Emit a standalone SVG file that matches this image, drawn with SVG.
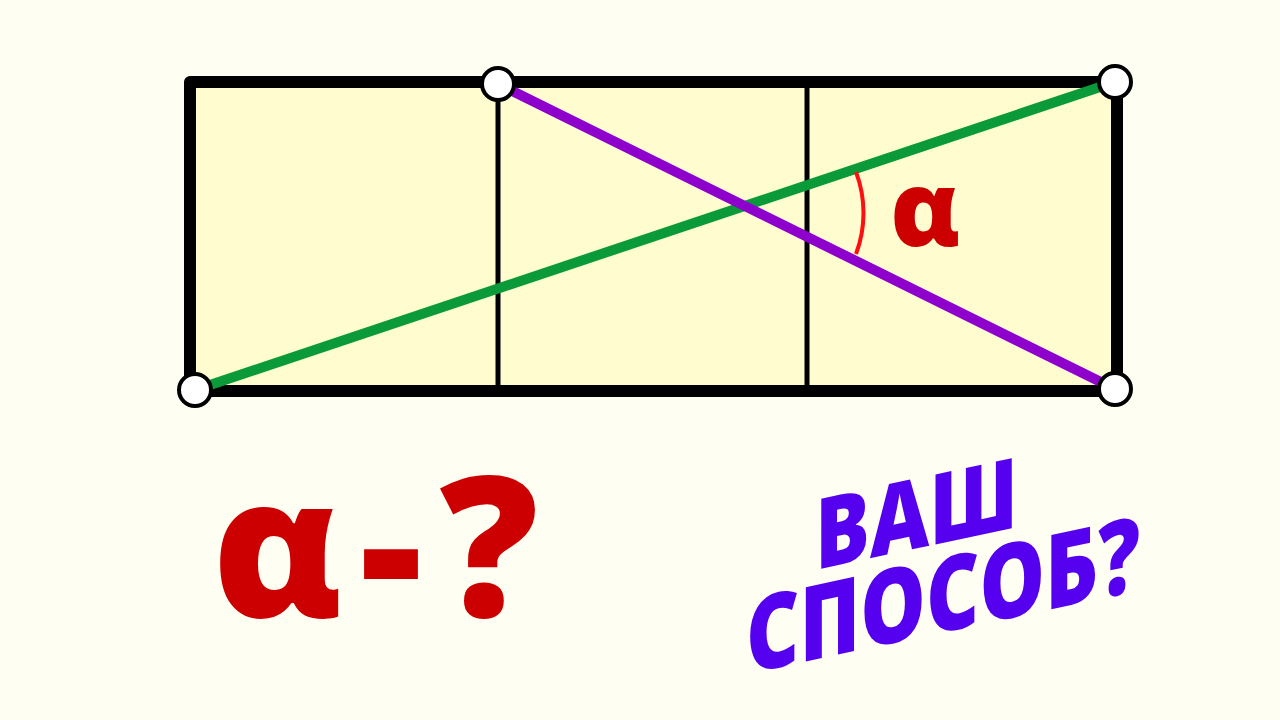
<svg xmlns="http://www.w3.org/2000/svg" width="1280" height="720" viewBox="0 0 1280 720">
<style>
.bg{fill:#FFFEF2}
.cell{fill:#FFFDD0;stroke:none}
.frame{fill:none;stroke:#000;stroke-width:12;stroke-linejoin:round}
.div{stroke:#000;stroke-width:5}
.pt{fill:#fff;stroke:#000;stroke-width:4}
.red{fill:#CC0000;font-family:"Open Sans","Noto Sans",sans-serif;font-weight:800}
.blue{fill:#5500EE;font-family:"Open Sans","Noto Sans",sans-serif;font-weight:800}
</style>
<rect class="bg" x="0" y="0" width="1280" height="720"/>
<g id="rectangle">
<rect class="cell" x="190" y="82" width="927" height="309"/>
<line class="div" x1="498" y1="82" x2="498" y2="391"/>
<line class="div" x1="807" y1="82" x2="807" y2="391"/>
<rect class="frame" x="190" y="82" width="927" height="309"/>
</g>
<g id="connectors">
<line x1="195" y1="390" x2="1115" y2="82" stroke="#0A9A3A" stroke-width="10"/>
<line x1="498" y1="84" x2="1115" y2="389" stroke="#8E00CC" stroke-width="10"/>
<path d="M 856 172 A 116 116 0 0 1 856 254" fill="none" stroke="#FF1010" stroke-width="4"/>
</g>
<g id="points">
<circle class="pt" cx="195" cy="390" r="16"/>
<circle class="pt" cx="498" cy="84" r="16"/>
<circle class="pt" cx="1115" cy="82" r="16"/>
<circle class="pt" cx="1115" cy="389" r="16"/>
</g>
<g id="label-alpha">
<text class="red" x="890" y="246" font-size="105">α</text>
</g>
<g id="question">
<text class="red" x="212 360 440" y="617" font-size="195">α-?</text>
</g>
<g id="slogan">
<g transform="translate(815,570) skewY(-12)">
<text class="blue" x="0" y="0" font-size="98" textLength="203" lengthAdjust="spacingAndGlyphs">ВАШ</text>
</g>
<g transform="translate(746,674) skewY(-12)">
<text class="blue" x="0" y="0" font-size="104" textLength="394" lengthAdjust="spacingAndGlyphs">СПОСОБ?</text>
</g>
</g>
</svg>
